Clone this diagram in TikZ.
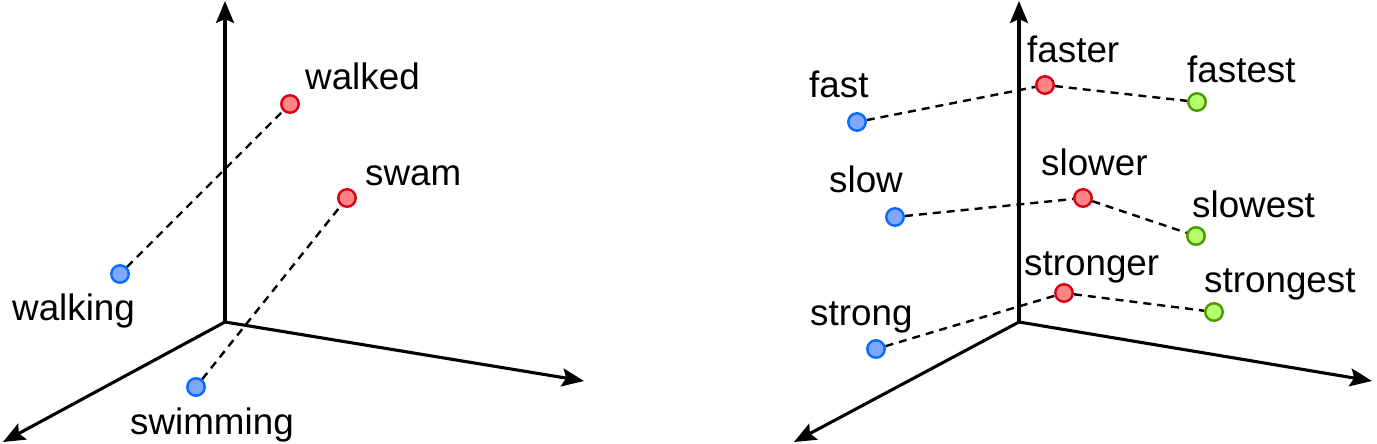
\documentclass[tikz,border=0pt]{standalone}
\usepackage{fontspec}
\setmainfont{Liberation Sans}
\usetikzlibrary{arrows.meta}
\definecolor{bluedraw}{HTML}{0A6CFF}
\definecolor{bluefill}{HTML}{7EA8FF}
\definecolor{reddraw}{HTML}{DA0012}
\definecolor{redfill}{HTML}{FF8585}
\definecolor{greendraw}{HTML}{4D9A00}
\definecolor{greenfill}{HTML}{B5FF6A}
\begin{document}
\begin{tikzpicture}[x=1pt,y=-1pt,
  axis/.style={line width=3.1pt,-{Stealth[length=22pt,width=18pt,inset=4pt]}},
  dot/.style={circle,inner sep=0pt,minimum size=17.5pt,line width=2.4pt},
  bdot/.style={dot,draw=bluedraw,fill=bluefill},
  rdot/.style={dot,draw=reddraw,fill=redfill},
  gdot/.style={dot,draw=greendraw,fill=greenfill},
  lbl/.style={anchor=base west,inner sep=0pt,font=\fontsize{36.8}{40}\selectfont},
  link/.style={line width=2.4pt,dash pattern=on 8pt off 6pt}]
\useasboundingbox (0,0) rectangle (1377,444);
% ---- left diagram ----
\coordinate (lo) at (225,322);
\coordinate (lt) at (225,1);
\coordinate (lr) at (584,381);
\coordinate (ll) at (3,442);
\draw[axis] (lo) -- (lt);
\draw[axis] (lo) -- (lr);
\draw[axis] (lo) -- (ll);
\node[rdot] (walked) at (290,104) {};
\node[rdot] (swam) at (347,198) {};
\node[bdot] (walking) at (120,274) {};
\node[bdot] (swimming) at (196,387) {};
\draw[link] (walking) -- (walked);
\draw[link] (swimming) -- (swam);
\node[lbl] (twalked) at (305,90) {walked};
\node[lbl] (tswam) at (365,185) {swam};
\node[lbl] (twalking) at (12,320) {walking};
\node[lbl] (tswimming) at (130,434) {swimming};
% ---- right diagram ----
\coordinate (ro) at (1019,322);
\coordinate (rt) at (1019,1);
\coordinate (rr) at (1372,381);
\coordinate (rl) at (794,442);
\draw[axis] (ro) -- (rt);
\draw[axis] (ro) -- (rr);
\draw[axis] (ro) -- (rl);
\node[bdot] (fast) at (857,122) {};
\node[rdot] (faster) at (1045,85) {};
\node[gdot] (fastest) at (1197,102) {};
\node[bdot] (slow) at (895,217) {};
\node[rdot] (slower) at (1083,198) {};
\node[gdot] (slowest) at (1196,236) {};
\node[bdot] (strong) at (876,349) {};
\node[rdot] (stronger) at (1064,293) {};
\node[gdot] (strongest) at (1214,312) {};
\draw[link] (fast) -- (faster);
\draw[link] (faster) -- (fastest);
\draw[link] (slow) -- (slower);
\draw[link] (slower) -- (slowest);
\draw[link] (strong) -- (stronger);
\draw[link] (stronger) -- (strongest);
\node[lbl] (tfast) at (809,98) {fast};
\node[lbl] (tfaster) at (1027,63) {faster};
\node[lbl] (tfastest) at (1187,83) {fastest};
\node[lbl] (tslow) at (829,192) {slow};
\node[lbl] (tslower) at (1041,175) {slower};
\node[lbl] (tslowest) at (1192,217) {slowest};
\node[lbl] (tstrong) at (810,325) {strong};
\node[lbl] (tstronger) at (1024,275) {stronger};
\node[lbl] (tstrongest) at (1204,292) {strongest};
\end{tikzpicture}
\end{document}
